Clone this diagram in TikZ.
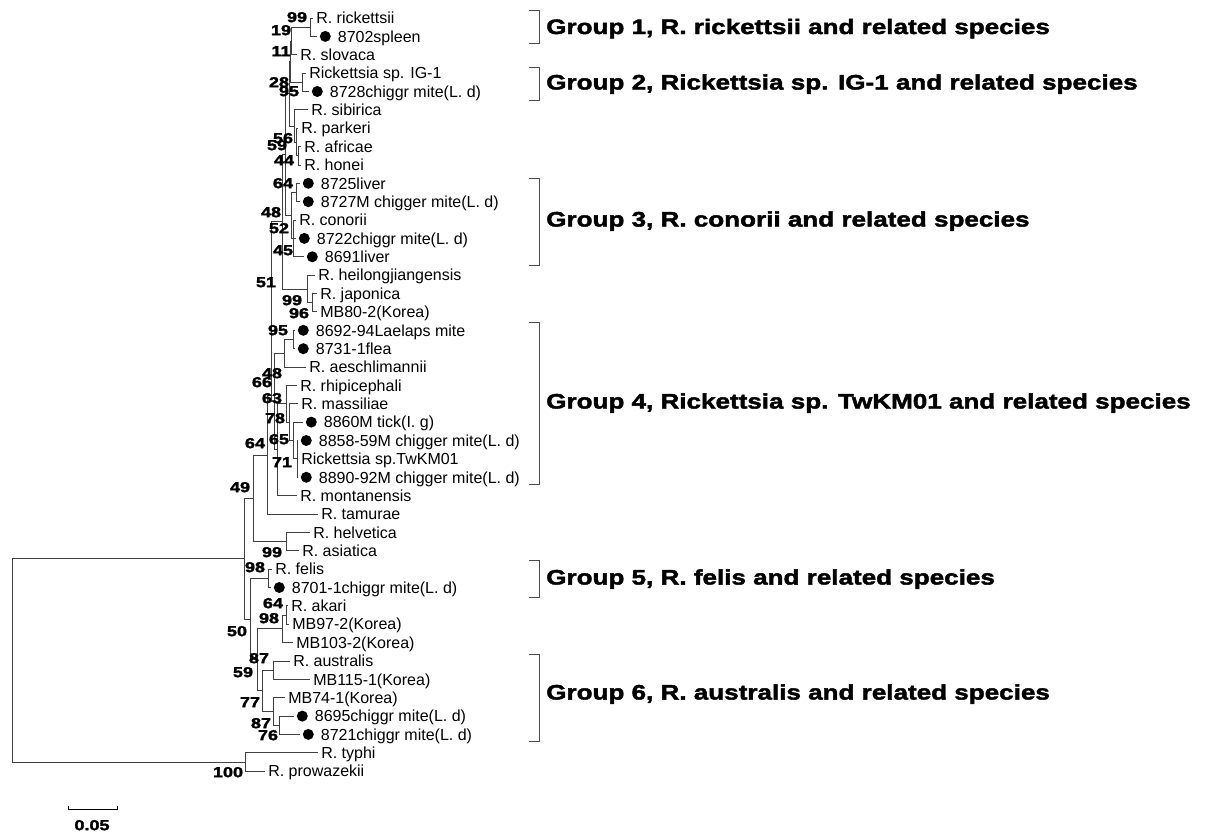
\documentclass[tikz,border=0pt]{standalone}
\usepackage{fontspec}
\setmainfont{Liberation Sans}
\newfontfamily\widefont{Liberation Sans}[FakeStretch=1.24,BoldFeatures={FakeBold=2}]
\usetikzlibrary{positioning}
\tikzstyle{branch}=[draw=black!75,line width=0.75pt]
\tikzstyle{leaf}=[inner sep=0pt,anchor=west,font=\fontsize{12}{14}\selectfont,text height=8.6pt,text depth=0pt]
\tikzstyle{isolate}=[circle,fill=black,inner sep=0pt,minimum size=8.25pt]
\tikzstyle{boot}=[inner sep=0pt,font=\widefont\bfseries\fontsize{10.9}{12}\selectfont,text height=7.8pt,text depth=0pt]
\tikzstyle{group}=[inner sep=0pt,anchor=west,font=\widefont\bfseries\fontsize{15.75}{18}\selectfont,text height=11.3pt,text depth=0pt]
\tikzstyle{bracket}=[draw=black!70,line width=0.75pt]

\begin{document}
\begin{tikzpicture}[x=0.75pt,y=-0.75pt]
\useasboundingbox (0,0) rectangle (1211,832);
% internal nodes
\coordinate (root) at (12,660);
\coordinate (nA) at (244,558);
\coordinate (n49) at (253,498);
\coordinate (n64) at (267,455);
\coordinate (n66) at (271,395);
\coordinate (n51) at (282,221.8);
\coordinate (n48b) at (285,154.6);
\coordinate (n95) at (289,93.8);
\coordinate (n11) at (290,61.6);
\coordinate (n19) at (291,41);
\coordinate (n99a) at (310,27.2);
\coordinate (n28) at (302,82.3);
\coordinate (n56) at (294,126);
\coordinate (n59b) at (296,142);
\coordinate (n44) at (298,155.8);
\coordinate (n52) at (291,215.5);
\coordinate (n64c) at (296,192.5);
\coordinate (n45) at (293,238.4);
\coordinate (n99b) at (307,289);
\coordinate (n96) at (312,302.8);
\coordinate (n48) at (274,401.5);
\coordinate (nc) at (284,353.3);
\coordinate (n95b) at (293,339.5);
\coordinate (n78) at (277,449.7);
\coordinate (n63) at (286,403.8);
\coordinate (n65) at (289,422.1);
\coordinate (n71) at (293,440.5);
\coordinate (nrest) at (297,458.9);
\coordinate (n99c) at (286,541.6);
\coordinate (n50) at (250,619);
\coordinate (n98f) at (268,578.3);
\coordinate (n59) at (257,659.8);
\coordinate (n98b) at (282,628.8);
\coordinate (n64b) at (286,615);
\coordinate (n77) at (262,690.8);
\coordinate (n87a) at (273,670.2);
\coordinate (n87b) at (273,711.5);
\coordinate (n76) at (279,725.3);
\coordinate (n100) at (245,762);

% branch ends
\coordinate (e1) at (313,18.0);
\coordinate (e2) at (317,36.4);
\coordinate (e3) at (297,54.7);
\coordinate (e4) at (306,73.1);
\coordinate (e5) at (309,91.5);
\coordinate (e6) at (308,109.9);
\coordinate (e7) at (298,128.2);
\coordinate (e8) at (301,146.6);
\coordinate (e9) at (301,165.0);
\coordinate (e10) at (300,183.3);
\coordinate (e11) at (300,201.7);
\coordinate (e12) at (296,220.1);
\coordinate (e13) at (296,238.4);
\coordinate (e14) at (304,256.8);
\coordinate (e15) at (315,275.2);
\coordinate (e16) at (317,293.6);
\coordinate (e17) at (317,311.9);
\coordinate (e18) at (295,330.3);
\coordinate (e19) at (295,348.7);
\coordinate (e20) at (306,367.0);
\coordinate (e21) at (297,385.4);
\coordinate (e22) at (298,403.8);
\coordinate (e23) at (303,422.1);
\coordinate (e24) at (298,440.5);
\coordinate (e25) at (298,458.9);
\coordinate (e26) at (298,477.3);
\coordinate (e27) at (297,495.6);
\coordinate (e28) at (318,514.0);
\coordinate (e29) at (310,532.4);
\coordinate (e30) at (299,550.7);
\coordinate (e31) at (272,569.1);
\coordinate (e32) at (271,587.5);
\coordinate (e33) at (288,605.8);
\coordinate (e34) at (289,624.2);
\coordinate (e35) at (293,642.6);
\coordinate (e36) at (290,661.0);
\coordinate (e37) at (310,679.3);
\coordinate (e38) at (285,697.7);
\coordinate (e39) at (294,716.1);
\coordinate (e40) at (300,734.4);
\coordinate (e41) at (318,752.8);
\coordinate (e42) at (265,771.2);

% branches
\foreach \p/\c in {root/nA,root/n100,nA/n49,nA/n50,n49/n64,n49/n99c,n64/n66,n64/e28,
  n66/n51,n66/n48,n51/n48b,n51/n99b,n48b/n95,n48b/n52,n95/n11,n95/n56,n11/n19,n11/n28,
  n19/n99a,n19/e3,n99a/e1,n99a/e2,n28/e4,n28/e5,n56/e6,n56/n59b,n59b/e7,n59b/n44,
  n44/e8,n44/e9,n52/n64c,n52/n45,n64c/e10,n64c/e11,n45/e12,n45/e13,n45/e14,
  n99b/e15,n99b/n96,n96/e16,n96/e17,n48/nc,n48/n78,nc/n95b,nc/e20,n95b/e18,n95b/e19,
  n78/n63,n78/e27,n63/e21,n63/n65,n65/e22,n65/n71,n71/e23,n71/nrest,
  nrest/e24,nrest/e25,nrest/e26,n99c/e29,n99c/e30,n50/n98f,n50/n59,n98f/e31,n98f/e32,
  n59/n98b,n59/n77,n98b/n64b,n98b/e35,n64b/e33,n64b/e34,n77/n87a,n77/n87b,
  n87a/e36,n87a/e37,n87b/e38,n87b/n76,n76/e39,n76/e40,n100/e41,n100/e42}
  \draw[branch] (\p) |- (\c);

% taxa
\node[leaf,right=2.25pt of e1] (l1) {R. rickettsii};
\node[isolate,right=1.9pt of e2] (m2) {};
\node[leaf,right=4.9pt of m2] (l2) {8702spleen};
\node[leaf,right=2.25pt of e3] (l3) {R. slovaca};
\node[leaf,right=2.25pt of e4] (l4) {Rickettsia sp. IG-1};
\node[isolate,right=1.9pt of e5] (m5) {};
\node[leaf,right=4.9pt of m5] (l5) {8728chiggr mite(L. d)};
\node[leaf,right=2.25pt of e6] (l6) {R. sibirica};
\node[leaf,right=2.25pt of e7] (l7) {R. parkeri};
\node[leaf,right=2.25pt of e8] (l8) {R. africae};
\node[leaf,right=2.25pt of e9] (l9) {R. honei};
\node[isolate,right=1.9pt of e10] (m10) {};
\node[leaf,right=4.9pt of m10] (l10) {8725liver};
\node[isolate,right=1.9pt of e11] (m11) {};
\node[leaf,right=4.9pt of m11] (l11) {8727M chigger mite(L. d)};
\node[leaf,right=2.25pt of e12] (l12) {R. conorii};
\node[isolate,right=1.9pt of e13] (m13) {};
\node[leaf,right=4.9pt of m13] (l13) {8722chiggr mite(L. d)};
\node[isolate,right=1.9pt of e14] (m14) {};
\node[leaf,right=4.9pt of m14] (l14) {8691liver};
\node[leaf,right=2.25pt of e15] (l15) {R. heilongjiangensis};
\node[leaf,right=2.25pt of e16] (l16) {R. japonica};
\node[leaf,right=2.25pt of e17] (l17) {MB80-2(Korea)};
\node[isolate,right=1.9pt of e18] (m18) {};
\node[leaf,right=4.9pt of m18] (l18) {8692-94Laelaps mite};
\node[isolate,right=1.9pt of e19] (m19) {};
\node[leaf,right=4.9pt of m19] (l19) {8731-1flea};
\node[leaf,right=2.25pt of e20] (l20) {R. aeschlimannii};
\node[leaf,right=2.25pt of e21] (l21) {R. rhipicephali};
\node[leaf,right=2.25pt of e22] (l22) {R. massiliae};
\node[isolate,right=1.9pt of e23] (m23) {};
\node[leaf,right=4.9pt of m23] (l23) {8860M tick(I. g)};
\node[isolate,right=1.9pt of e24] (m24) {};
\node[leaf,right=4.9pt of m24] (l24) {8858-59M chigger mite(L. d)};
\node[leaf,right=2.25pt of e25] (l25) {Rickettsia sp.TwKM01};
\node[isolate,right=1.9pt of e26] (m26) {};
\node[leaf,right=4.9pt of m26] (l26) {8890-92M chigger mite(L. d)};
\node[leaf,right=2.25pt of e27] (l27) {R. montanensis};
\node[leaf,right=2.25pt of e28] (l28) {R. tamurae};
\node[leaf,right=2.25pt of e29] (l29) {R. helvetica};
\node[leaf,right=2.25pt of e30] (l30) {R. asiatica};
\node[leaf,right=2.25pt of e31] (l31) {R. felis};
\node[isolate,right=1.9pt of e32] (m32) {};
\node[leaf,right=4.9pt of m32] (l32) {8701-1chiggr mite(L. d)};
\node[leaf,right=2.25pt of e33] (l33) {R. akari};
\node[leaf,right=2.25pt of e34] (l34) {MB97-2(Korea)};
\node[leaf,right=2.25pt of e35] (l35) {MB103-2(Korea)};
\node[leaf,right=2.25pt of e36] (l36) {R. australis};
\node[leaf,right=2.25pt of e37] (l37) {MB115-1(Korea)};
\node[leaf,right=2.25pt of e38] (l38) {MB74-1(Korea)};
\node[isolate,right=1.9pt of e39] (m39) {};
\node[leaf,right=4.9pt of m39] (l39) {8695chiggr mite(L. d)};
\node[isolate,right=1.9pt of e40] (m40) {};
\node[leaf,right=4.9pt of m40] (l40) {8721chiggr mite(L. d)};
\node[leaf,right=2.25pt of e41] (l41) {R. typhi};
\node[leaf,right=2.25pt of e42] (l42) {R. prowazekii};

% bootstrap values
\node[boot] (b1) at (297,17) {99};
\node[boot] (b2) at (281,30) {19};
\node[boot] (b3) at (281,51) {11};
\node[boot] (b4) at (279,82) {28};
\node[boot] (b5) at (289,91) {95};
\node[boot] (b6) at (283,138) {56};
\node[boot] (b7) at (277,145) {59};
\node[boot] (b8) at (284,160) {44};
\node[boot] (b9) at (283,183) {64};
\node[boot] (b10) at (271,212) {48};
\node[boot] (b11) at (279,228) {52};
\node[boot] (b12) at (283,250) {45};
\node[boot] (b13) at (266,282) {51};
\node[boot] (b14) at (292,300) {99};
\node[boot] (b15) at (299,313) {96};
\node[boot] (b16) at (278,330) {95};
\node[boot] (b17) at (272,373) {48};
\node[boot] (b18) at (262,382) {66};
\node[boot] (b19) at (272,398) {63};
\node[boot] (b20) at (275,418) {78};
\node[boot] (b21) at (279,439) {65};
\node[boot] (b22) at (255,443) {64};
\node[boot] (b23) at (282,462) {71};
\node[boot] (b24) at (240,487) {49};
\node[boot] (b25) at (272,552) {99};
\node[boot] (b26) at (255,567) {98};
\node[boot] (b27) at (273,603) {64};
\node[boot] (b28) at (269,618) {98};
\node[boot] (b29) at (237,631) {50};
\node[boot] (b30) at (259,658) {87};
\node[boot] (b31) at (243,672) {59};
\node[boot] (b32) at (250,702) {77};
\node[boot] (b33) at (261,723) {87};
\node[boot] (b34) at (268,735) {76};
\node[boot] (b35) at (228,772) {100};

% groups
\foreach \g/\t/\b in {1/10/43,2/67/100,3/178/265,4/322/484,5/560/597,6/654/741}{
  \coordinate (g\g t) at (539,\t);
  \coordinate (g\g b) at (539,\b);
  \draw[bracket] ([xshift=-7.5pt]g\g t) -- (g\g t) -- (g\g b) -- ([xshift=-7.5pt]g\g b);
}
\node[group] (grp1) at (546,26.5) {Group 1, R. rickettsii and related species};
\node[group] (grp2) at (546,82) {Group 2, Rickettsia sp. IG-1 and related species};
\node[group] (grp3) at (546,219) {Group 3, R. conorii and related species};
\node[group] (grp4) at (546,401) {Group 4, Rickettsia sp. TwKM01 and related species};
\node[group] (grp5) at (546,577) {Group 5, R. felis and related species};
\node[group] (grp6) at (546,692) {Group 6, R. australis and related species};

% scale bar
\coordinate (s1) at (68,809);
\coordinate (s2) at (117,809);
\draw[branch,draw=black] ([yshift=2.25pt]s1) -- (s1) -- (s2) -- ([yshift=2.25pt]s2);
\node[boot] (sl) at (92,825) {0.05};
\end{tikzpicture}
\end{document}
